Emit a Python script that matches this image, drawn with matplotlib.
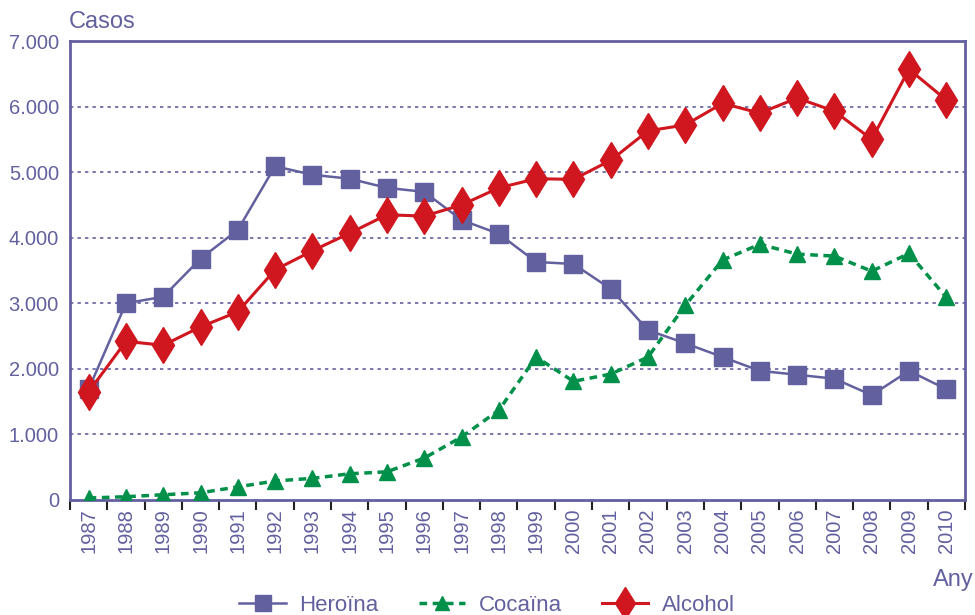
import matplotlib
matplotlib.use("Agg")
import matplotlib.pyplot as plt
import numpy as np
from matplotlib.ticker import FixedLocator, FuncFormatter

years = list(range(1987, 2011))
heroina = [1690, 3000, 3100, 3680, 4120, 5090, 4960, 4900, 4760, 4700, 4270, 4060,
           3630, 3600, 3220, 2590, 2390, 2180, 1970, 1910, 1850, 1600, 1970, 1690]
cocaina = [30, 50, 80, 110, 200, 290, 330, 400, 430, 640, 960, 1370,
           2180, 1810, 1920, 2180, 2970, 3660, 3900, 3750, 3720, 3490, 3760, 3090]
alcohol = [1650, 2420, 2360, 2640, 2870, 3510, 3800, 4070, 4350, 4330, 4500, 4760,
           4900, 4890, 5180, 5630, 5720, 6050, 5900, 6130, 5930, 5500, 6570, 6100]
yticks = [0, 1000, 2000, 3000, 4000, 5000, 6000, 7000]

PURPLE = "#62609e"
RED = "#d0161e"
GREEN = "#00904a"

plt.rcParams['font.family'] = ['Liberation Sans', 'DejaVu Sans']

fig = plt.figure(figsize=(9.75, 6.15), dpi=100)
ax = fig.add_axes([0.0718, 0.187, 0.9179, 0.7463])

x = np.arange(len(years))
ax.plot(x, heroina, color=PURPLE, lw=1.8, marker='s', ms=13.5, mfc=PURPLE, mec=PURPLE,
        label='Heroïna', zorder=3)
ax.plot(x, cocaina, color=GREEN, lw=2.5, ls=(0, (2.2, 1.6)), marker='^', ms=11,
        mfc=GREEN, mec=GREEN, label='Cocaïna', zorder=3)
ax.plot(x, alcohol, color=RED, lw=2.2, marker='d', ms=18, mfc=RED, mec=RED,
        label='Alcohol', zorder=4)

ax.set_xlim(-0.5, len(years) - 0.5)
ax.set_ylim(0, 7000)
ax.set_yticks(yticks)
ax.yaxis.set_major_formatter(FuncFormatter(lambda v, p: f"{int(v):,}".replace(",", ".")))
ax.set_xticks(x)
ax.set_xticklabels([str(y) for y in years], rotation=90)
ax.xaxis.set_minor_locator(FixedLocator(np.arange(-0.5, len(years), 1.0)))
ax.tick_params(axis='x', which='major', length=0, pad=6, labelsize=14.5, labelcolor=PURPLE)
ax.tick_params(axis='x', which='minor', length=7, width=1.5, color='#222222', direction='out')
ax.tick_params(axis='y', length=0, pad=8, labelsize=14.5, labelcolor=PURPLE)

for s in ax.spines.values():
    s.set_color(PURPLE)
    s.set_linewidth(2)

for v in yticks[1:-1]:
    ax.axhline(v, color=PURPLE, lw=1.2, ls=(0, (2, 2.5)), zorder=1)

fig.text(0.0708, 0.965, "Casos", color=PURPLE, fontsize=17, ha='left', va='center')
fig.text(0.999, 0.057, "Any", color=PURPLE, fontsize=17, ha='right', va='center')

leg = fig.legend(loc='center', bbox_to_anchor=(0.4995, 0.016), ncol=3, frameon=False,
                 fontsize=16, handlelength=2.1, columnspacing=1.8, labelcolor=PURPLE,
                 handletextpad=0.6, markerscale=0.9)

fig.savefig("out.png", dpi=100)
